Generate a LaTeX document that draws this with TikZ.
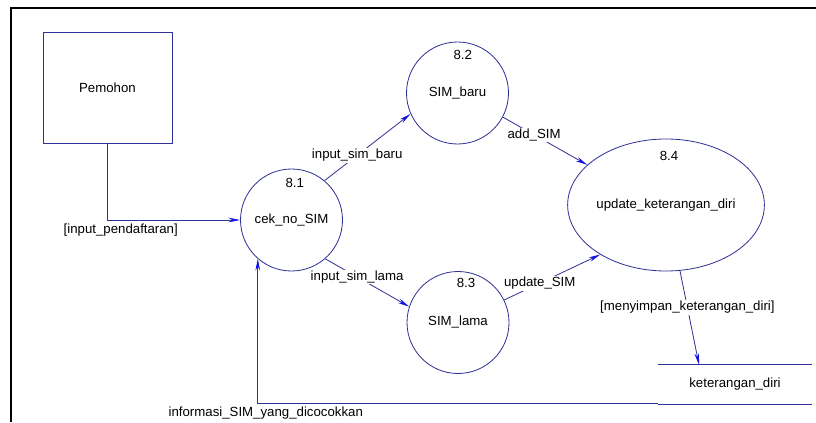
\documentclass[tikz,border=0pt]{standalone}
\usepackage{fontspec}
\setmainfont{Liberation Sans}
\usetikzlibrary{arrows.meta,shapes.geometric}
\definecolor{dfdline}{RGB}{50,50,150}
\definecolor{dfdtip}{RGB}{20,20,230}
\tikzset{
  flow/.style={draw=dfdline, line width=0.7pt, -{Stealth[length=10pt,width=4pt,dfdtip]}},
  proc/.style={circle, draw=dfdline, line width=0.7pt, minimum size=3.06cm, inner sep=0pt},
  lbl/.style={fill=white, inner sep=1pt},
}
\begin{document}
\begin{tikzpicture}[font=\fontsize{11.3}{13}\selectfont]
  \useasboundingbox (0,0) rectangle (24.48,12.66);
  % frame
  \draw[line width=2pt] (0.33,0) -- (0.33,12.42) -- (24.48,12.42);
  % entitas luar
  \node[draw=dfdline, line width=0.7pt, minimum width=3.87cm, minimum height=3.33cm] (pemohon) at (3.225,10.035) {Pemohon};
  % proses
  \node[proc] (p1) at (8.745,6.06) {cek\_no\_SIM};
  \node[proc] (p2) at (13.725,9.87) {SIM\_baru};
  \node[proc] (p3) at (13.74,2.985) {SIM\_lama};
  \node[proc, ellipse, minimum width=5.88cm, minimum height=3.96cm] (p4) at (19.98,6.51) {update\_keterangan\_diri};
  \node (n1) at ([shift={(0.1,1.11)}]p1.center) {8.1};
  \node (n2) at ([shift={(0.16,1.14)}]p2.center) {8.2};
  \node (n3) at ([shift={(0.24,1.18)}]p3.center) {8.3};
  \node (n4) at ([shift={(0.09,1.47)}]p4.center) {8.4};
  % data store
  \node[minimum width=4.62cm, minimum height=1.17cm] (simpan) at (22.05,1.125) {keterangan\_diri};
  \draw[dfdline, line width=0.7pt] (simpan.north west) -- (simpan.north east)
                 (simpan.south west) -- (simpan.south east);
  % aliran data
  \draw[flow] (pemohon.south) |- (p1.west) node[pos=0.55, below] {[input\_pendaftaran]};
  \draw[flow] (p1.50) -- (p2.204) node[lbl, pos=0.38] {input\_sim\_baru};
  \draw[flow] (p1.-49) -- (p3.162) node[lbl, pos=0.38] {input\_sim\_lama};
  \draw[flow] (p2.-28) -- (p4.153) node[lbl, pos=0.37] {add\_SIM};
  \draw[flow] (p3.26) -- (p4.217) node[lbl, pos=0.37] {update\_SIM};
  \draw[flow] (p4.-78) -- ([xshift=-1.08cm]simpan.north) node[lbl, pos=0.39] {[menyimpan\_keterangan\_diri]};
  \draw[flow] ([yshift=1pt]simpan.south west) -| (p1.229) node[pos=0.49, below] {informasi\_SIM\_yang\_dicocokkan};
\end{tikzpicture}
\end{document}
